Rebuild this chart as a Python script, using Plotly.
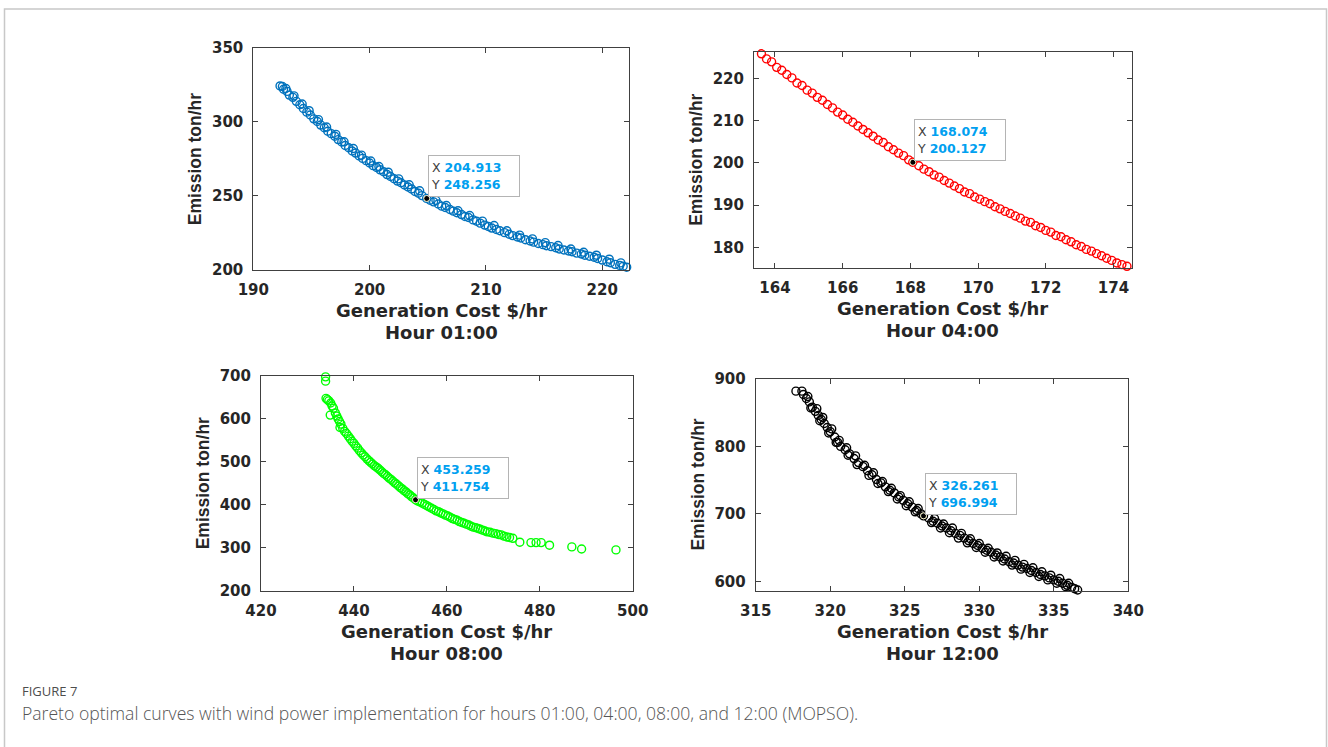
import plotly.graph_objects as go

# ---------------- data ----------------
h01_cost = [192.3, 192.5, 192.6, 192.9, 193.1, 193.4, 193.7, 194.0, 194.3, 194.6, 194.9, 195.2, 195.5, 195.8,
            196.1, 196.4, 196.7, 197.0, 197.3, 197.6, 197.9, 198.2, 198.5, 198.8, 199.1, 199.4, 199.7, 200.0,
            200.3, 200.6, 200.9, 201.2, 201.5, 201.8, 202.1, 202.4, 202.7, 203.0, 203.3, 203.6, 203.9, 204.2,
            204.5, 204.9, 205.2, 205.5, 205.9, 206.2, 206.5, 206.9, 207.2, 207.5, 207.9, 208.2, 208.5, 208.9,
            209.2, 209.5, 209.9, 210.2, 210.5, 210.9, 211.2, 211.6, 212.0, 212.3, 212.7, 213.0, 213.4, 213.8,
            214.1, 214.5, 214.9, 215.2, 215.6, 216.0, 216.3, 216.7, 217.1, 217.4, 217.8, 218.2, 218.5, 218.9,
            219.3, 219.6, 220.0, 220.4, 220.7, 221.1, 221.5, 221.8, 222.1, 222.4]
h01_emis = [324.2, 323.8, 322.0, 320.5, 318.0, 316.5, 313.8, 311.5, 309.0, 306.5, 304.6, 302.0, 300.2, 297.8,
            296.0, 293.6, 292.0, 290.3, 288.0, 286.4, 284.0, 282.5, 280.3, 278.9, 277.0, 275.3, 273.8, 272.2,
            270.4, 269.2, 267.6, 266.3, 264.4, 263.1, 261.6, 260.0, 258.9, 257.4, 256.0, 254.7, 253.0, 251.8,
            250.2, 248.3, 247.1, 246.0, 244.5, 243.1, 242.2, 240.8, 239.7, 238.6, 237.4, 236.1, 235.4, 233.8,
            232.9, 231.6, 230.3, 229.4, 228.3, 227.3, 226.5, 225.2, 224.1, 223.2, 222.3, 221.6, 220.4, 219.6,
            218.8, 217.9, 217.1, 216.4, 215.8, 215.0, 214.2, 213.5, 212.8, 212.3, 211.4, 210.8, 210.0, 209.3,
            208.6, 207.8, 206.7, 205.6, 204.9, 203.8, 203.1, 202.5, 201.9, 201.0]
# second row of overlapping circles that thickens the band
h01_cost_b = [192.8, 193.5, 194.2, 194.8, 195.6, 196.3, 197.1, 197.8, 198.6, 199.3, 200.1, 200.8, 201.6,
              202.5, 203.4, 204.3, 205.7, 206.6, 207.6, 208.6, 209.7, 210.7, 211.8, 212.9, 214.0, 215.1,
              216.2, 217.3, 218.4, 219.5, 220.6, 221.6]
h01_emis_b = [322.5, 317.5, 312.0, 307.5, 301.5, 296.5, 291.5, 286.5, 282.0, 277.5, 273.5, 269.8, 266.0,
              261.5, 257.5, 253.5, 247.0, 243.5, 240.0, 236.8, 233.0, 230.0, 226.5, 223.5, 221.0, 218.5,
              216.5, 214.2, 212.0, 210.0, 207.3, 204.8]

h04_cost = [163.45, 163.6, 163.75, 163.9, 164.05, 164.2, 164.35, 164.5, 164.65, 164.8, 164.95, 165.1, 165.25,
            165.4, 165.55, 165.7, 165.85, 166.0, 166.15, 166.3, 166.45, 166.6, 166.75, 166.9, 167.05, 167.2,
            167.35, 167.5, 167.65, 167.8, 167.95, 168.07, 168.25, 168.4, 168.55, 168.7, 168.85, 169.0, 169.15,
            169.3, 169.45, 169.6, 169.75, 169.9, 170.05, 170.2, 170.35, 170.5, 170.65, 170.8, 170.95, 171.1,
            171.25, 171.4, 171.55, 171.7, 171.85, 172.0, 172.15, 172.3, 172.45, 172.6, 172.75, 172.9, 173.05,
            173.2, 173.35, 173.5, 173.65, 173.8, 173.95, 174.1, 174.25, 174.4, 174.55]
h04_emis = [226.6, 225.8, 224.6, 223.9, 222.6, 221.9, 220.9, 220.1, 218.9, 218.3, 217.2, 216.5, 215.5,
            214.8, 213.8, 213.0, 212.0, 211.3, 210.3, 209.6, 208.7, 207.9, 207.1, 206.3, 205.4, 204.8,
            203.8, 203.1, 202.3, 201.7, 200.7, 200.13, 199.3, 198.5, 197.9, 197.1, 196.6, 195.8, 195.2,
            194.5, 193.9, 193.1, 192.7, 191.9, 191.4, 190.8, 190.3, 189.6, 189.1, 188.5, 188.0, 187.4,
            186.9, 186.2, 185.9, 185.1, 184.7, 184.0, 183.6, 182.8, 182.5, 181.8, 181.3, 180.6, 180.2,
            179.5, 179.1, 178.5, 178.0, 177.4, 176.9, 176.3, 175.9, 175.5, 175.1]

h08_cost = [433.9, 433.9, 434.0, 434.3, 434.6, 435.0, 435.3, 435.6, 434.9, 436.0, 436.3, 436.6, 436.9, 437.2,
            437.0, 437.6, 438.0, 438.4, 438.8, 439.2, 439.6, 440.0, 440.4, 440.8, 441.2, 441.6, 442.0, 442.4,
            442.8, 443.2, 443.6, 444.0, 444.4, 444.8, 445.2, 445.6, 446.0, 446.4, 446.8, 447.2, 447.6, 448.0,
            448.4, 448.8, 449.2, 449.6, 450.0, 450.4, 450.8, 451.2, 451.6, 452.0, 452.4, 452.8, 453.26, 453.7,
            454.2, 454.7, 455.2, 455.7, 456.2, 456.7, 457.2, 457.7, 458.2, 458.7, 459.2, 459.7, 460.2, 460.7,
            461.2, 461.7, 462.2, 462.7, 463.2, 463.7, 464.2, 464.7, 465.2, 465.7, 466.2, 466.7, 467.2, 467.7,
            468.2, 468.7, 469.3, 469.9, 470.5, 471.1, 471.7, 472.3, 472.9, 473.5, 474.2, 475.7, 478.1, 479.2,
            480.3, 482.1, 486.9, 489.0, 496.4]
h08_emis = [698, 688, 648, 645, 642, 637, 630, 625, 609, 614, 607, 600, 594, 588,
            580, 578, 571, 566, 560, 554, 548, 543, 537, 532, 526, 521, 516, 512,
            507, 503, 499, 495, 491, 488, 485, 481, 477, 473, 470, 466, 462, 459,
            455, 451, 448, 444, 440, 437, 433, 430, 426, 423, 419, 416, 411.75, 409,
            407, 404, 401, 398, 395, 392, 389, 386, 384, 381, 379, 376, 374, 371,
            368, 366, 364, 361, 359, 357, 355, 353, 350, 348, 347, 345, 343, 341,
            339, 337, 336, 334, 333, 331, 330, 327, 325, 324, 322, 313, 312, 312,
            312, 306, 302, 297, 295]

h12_cost = [317.7, 318.1, 318.2, 318.4, 318.6, 318.8, 319.0, 319.2, 319.4, 319.6, 319.8, 320.0, 320.3, 320.5,
            320.7, 321.0, 321.3, 321.6, 321.9, 322.2, 322.5, 322.8, 323.1, 323.4, 323.7, 324.0, 324.3, 324.6,
            324.9, 325.2, 325.5, 325.8, 326.1, 326.26, 326.6, 326.9, 327.2, 327.5, 327.8, 328.1, 328.4, 328.7,
            329.0, 329.3, 329.6, 329.9, 330.2, 330.5, 330.8, 331.1, 331.4, 331.7, 332.0, 332.3, 332.6, 332.9,
            333.2, 333.5, 333.8, 334.1, 334.4, 334.7, 335.0, 335.3, 335.6, 335.9, 336.2, 336.4, 336.6]
h12_emis = [882, 882, 877, 871, 866, 858, 852, 846, 840, 834, 828, 822, 814, 806,
            800, 795, 789, 782, 776, 770, 764, 758, 751, 746, 740, 735, 731, 725,
            720, 715, 710, 705, 700, 697, 694, 689, 686, 682, 679, 675, 671, 668,
            664, 660, 656, 653, 649, 646, 643, 639, 636, 633, 629, 627, 624, 621,
            619, 616, 613, 610, 608, 605, 602, 600, 597, 594, 591, 589, 587]
# circles lying just above / below the main chain (the band is thick)
h12_cost_b = [318.5, 319.1, 319.5, 320.1, 320.6, 321.1, 321.7, 322.3, 322.9, 323.5, 324.1, 324.7, 325.3,
              325.9, 327.0, 327.6, 328.2, 328.8, 329.4, 330.0, 330.6, 331.2, 331.8, 332.4, 333.0, 333.6,
              334.2, 334.8, 335.4, 336.0,
              318.7, 319.3, 319.9, 320.4, 321.2, 321.8, 322.6, 323.2, 323.9, 324.5, 325.1, 325.7, 326.8,
              327.4, 328.0, 328.6, 329.2, 329.8, 330.4, 331.0, 331.6, 332.2, 332.8, 333.4, 334.0, 334.6,
              335.2, 335.8]
h12_emis_b = [874, 856, 843, 826, 809, 798, 786, 772, 761, 748, 738, 727, 718,
              708, 693, 685, 679, 671, 663, 656, 649, 642, 637, 631, 625, 620,
              614, 609, 604, 597,
              857, 838, 820, 806, 787, 773, 757, 745, 733, 722, 712, 703, 687,
              679, 672, 664, 657, 650, 643, 636, 630, 624, 618, 613, 607, 602,
              597, 592]

tip_x = [204.913, 168.074, 453.259, 326.261]
tip_y = [248.256, 200.127, 411.754, 696.994]

hour_labels = ["Hour 01:00", "Hour 04:00", "Hour 08:00", "Hour 12:00"]
x_ticks = [[190, 200, 210, 220], [164, 166, 168, 170, 172, 174], [420, 440, 460, 480, 500],
           [315, 320, 325, 330, 335, 340]]
y_ticks = [[200, 250, 300, 350], [180, 190, 200, 210, 220], [200, 300, 400, 500, 600, 700],
           [600, 700, 800, 900]]
x_ranges = [[190, 222.3], [163.38, 174.54], [420, 500], [315, 340]]
y_ranges = [[200, 350], [175.1, 226.3], [200, 700], [586, 900]]

caption_head = "FIGURE 7"
caption_text = ("Pareto optimal curves with wind power implementation for hours 01:00, 04:00, "
                "08:00, and 12:00 (MOPSO).")

# ---------------- layout geometry (pixels) ----------------
W, H = 1328, 747
panels_px = [  # left, right, top, bottom
    (253.3, 629.0, 47.7, 270.0),
    (754.0, 1131.7, 51.7, 268.0),
    (261.0, 632.7, 376.0, 590.7),
    (755.7, 1128.3, 379.0, 590.7),
]
colors = ["#0072BD", "#FF0000", "#00FF00", "#000000"]
series = [(h01_cost + h01_cost_b, h01_emis + h01_emis_b), (h04_cost, h04_emis), (h08_cost, h08_emis),
          (h12_cost + h12_cost_b, h12_emis + h12_emis_b)]

fig = go.Figure()
TXT = "#262626"
TICKFONT = dict(family="DejaVu Sans", size=15, color=TXT, weight="bold")
annotations = []
layout_axes = {}

for i in range(4):
    n = "" if i == 0 else str(i + 1)
    xa, ya = "x" + n, "y" + n
    l, r, t, b = panels_px[i]
    xs, ys = series[i]
    fig.add_trace(go.Scatter(
        x=xs, y=ys, mode="markers", xaxis=xa, yaxis=ya, showlegend=False, hoverinfo="skip",
        marker=dict(symbol="circle-open", size=8, color=colors[i], line=dict(width=1.4, color=colors[i])),
        cliponaxis=False))
    # data tip marker
    fig.add_trace(go.Scatter(
        x=[tip_x[i]], y=[tip_y[i]], mode="markers", xaxis=xa, yaxis=ya, showlegend=False,
        hoverinfo="skip", cliponaxis=False,
        marker=dict(symbol="circle", size=6, color="#000000", line=dict(width=1, color="#f4f1c8"))))
    common = dict(showline=True, linecolor="#404040", linewidth=1, mirror="ticks", ticks="inside",
                  ticklen=5, tickcolor="#404040", tickwidth=1, showgrid=False, zeroline=False,
                  tickfont=TICKFONT, ticklabelstandoff=6, automargin=False)
    layout_axes["xaxis" + n] = dict(domain=[l / W, r / W], anchor=ya, range=x_ranges[i],
                                    tickvals=x_ticks[i], ticktext=[str(v) for v in x_ticks[i]], **common)
    layout_axes["yaxis" + n] = dict(domain=[1 - b / H, 1 - t / H], anchor=xa, range=y_ranges[i],
                                    tickvals=y_ticks[i], ticktext=[str(v) for v in y_ticks[i]], **common)
    cx = (l + r) / 2
    # x title (two lines)
    annotations.append(dict(x=cx / W, y=1 - (b + 40.5) / H, xref="paper", yref="paper",
                            text="Generation Cost $/hr", showarrow=False, xanchor="center", yanchor="middle",
                            font=dict(family="DejaVu Sans", size=18, color=TXT, weight="bold")))
    annotations.append(dict(x=cx / W, y=1 - (b + 62.3) / H, xref="paper", yref="paper",
                            text=hour_labels[i], showarrow=False, xanchor="center", yanchor="middle",
                            font=dict(family="DejaVu Sans", size=18, color=TXT, weight="bold")))
    # y title
    annotations.append(dict(x=(l - 58) / W, y=1 - ((t + b) / 2) / H, xref="paper", yref="paper",
                            text="Emission ton/hr", showarrow=False, textangle=-90,
                            xanchor="center", yanchor="middle",
                            font=dict(family="Liberation Sans, Arial", size=17.5, color=TXT, weight="bold")))
    # data tip box
    tip = ("<span style='color:#404040;font-weight:normal'>X</span> "
           "<span style='color:#00A0F0'><b>%.3f</b></span><br>"
           "<span style='color:#404040;font-weight:normal'>Y</span> "
           "<span style='color:#00A0F0'><b>%.3f</b></span>") % (tip_x[i], tip_y[i])
    annotations.append(dict(x=tip_x[i], y=tip_y[i], xref=xa, yref=ya, text=tip, showarrow=False,
                            xanchor="left", yanchor="bottom", xshift=1, yshift=1, align="left",
                            width=86, height=36, borderpad=2, bgcolor="#ffffff",
                            bordercolor="#b4b4b4", borderwidth=1,
                            font=dict(family="DejaVu Sans", size=12.5, color="#404040")))

annotations.append(dict(x=20 / W, y=1 - 691 / H, xref="paper", yref="paper", text=caption_head,
                        showarrow=False, xanchor="left", yanchor="middle",
                        font=dict(family="Open Sans", size=13, color="#4d4d4d")))
annotations.append(dict(x=20 / W, y=1 - 713 / H, xref="paper", yref="paper", text=caption_text,
                        showarrow=False, xanchor="left", yanchor="middle",
                        font=dict(family="Open Sans", size=17.6, color="#555555", weight=300)))

fig.update_layout(
    width=W, height=H, autosize=False,
    margin=dict(l=0, r=0, t=0, b=0, pad=0, autoexpand=False),
    paper_bgcolor="white", plot_bgcolor="white",
    annotations=annotations,
    shapes=[dict(type="rect", xref="paper", yref="paper", x0=4.5 / W, x1=1326.5 / W,
                 y0=-0.05, y1=1 - 9 / H, line=dict(color="#c8c8c8", width=1.5))],
    **layout_axes,
)

fig.write_html("out.html", config={"displayModeBar": False})
